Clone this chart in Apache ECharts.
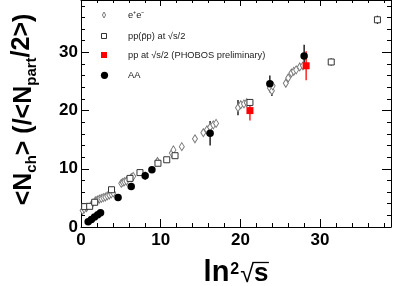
<!DOCTYPE html>
<html><head><meta charset="utf-8">
<script src="https://cdn.jsdelivr.net/npm/echarts@6/dist/echarts.min.js"></script>
<style>html,body{margin:0;padding:0;background:#fff}#c{width:399px;height:286px}</style>
</head><body><div id="c"></div>
<script>
// ---- data ----
const xTickLabels = [0, 10, 20, 30];
const yTickLabels = [0, 10, 20, 30];

const eeX   = [0.2,0.4,0.7,1.3,1.8,2.05,2.3,2.55,2.8,3.05,3.3,3.55,3.8,4.05,5.05,5.25,5.45,5.7,6.3,6.55,9.6,11.4,11.6,12.65,14.3,15.35,15.8,16.2,16.6,16.95,19.7,20.05,20.45,20.8,23.7,23.95,24.05,25.7,26.0,26.4,26.7,27.0,27.45,27.85];
const eeY   = [2.85,3.1,3.35,3.8,4.5,4.65,4.8,4.9,5.05,5.15,5.35,5.5,5.7,5.85,7.5,7.65,7.8,7.9,8.5,8.7,11.25,12.7,13.25,13.8,15.15,16.2,16.7,17.15,17.55,17.8,20.5,21.0,21.15,21.35,23.9,23.4,24.25,24.7,25.6,26.45,26.75,27.0,27.5,27.7];
const eeErr = [0,0,0,0,0,0,0,0,0,0,0,0,0,0,0,0,0,0,0.6,0,0.5,0,0.6,0,0,0,0,0,0,0,1.3,0,0,0,0,0.9,0,0.6,0.5,0,0,0,0,0];

const ppX   = [0.46,1.09,1.72,3.83,6.15,7.4,9.66,10.76,11.8,21.2,31.4,37.2];
const ppY   = [3.5,3.55,4.25,6.4,8.35,9.35,10.95,11.55,12.25,21.4,28.35,35.6];
const ppErr = [0,0,0,0,0,0,0,0,0,0,0.6,0.7];

const redX   = [21.2, 28.25];
const redY   = [20.0, 27.7];
const redErr = [1.7, 2.5];

const aaX   = [0.9,1.3,1.7,2.1,2.45,4.65,6.3,8.05,8.9,16.2,23.7,28.0];
const aaY   = [0.9,1.3,1.7,2.1,2.45,5.05,6.95,8.8,9.85,16.1,24.6,29.4];
const aaErr = [0,0,0,0,0,0,0.4,0.7,0.3,2.1,1.45,1.9];

// ---- build ----
const FONT = "'Liberation Sans', Arial, Helvetica, sans-serif";
const zip = (xs, ys) => xs.map((x, i) => [x, ys[i]]);
const errs = (xs, ys, es) => xs.map((x, i) => [x, ys[i] - es[i], ys[i] + es[i]]).filter((d, i) => es[i] > 0);
const errRender = color => (params, api) => {
  const a = api.coord([api.value(0), api.value(1)]);
  const b = api.coord([api.value(0), api.value(2)]);
  return { type: 'line', shape: { x1: a[0], y1: a[1], x2: b[0], y2: b[1] }, style: { stroke: color, lineWidth: 1.3 } };
};

const XMIN = 0, XMAX = 38.9, YMIN = 0, YMAX = 39;
const lineStyle = { color: '#000', width: 1 };
function xAx(pos, interval, len, labels, line) {
  return {
    type: 'value', position: pos, min: XMIN, max: XMAX, interval: interval,
    axisLine: { show: line, onZero: false, lineStyle },
    axisTick: { show: true, inside: true, length: len, lineStyle },
    splitLine: { show: false },
    axisLabel: labels ? {
      show: true, margin: 5, showMaxLabel: false,
      fontFamily: FONT, fontWeight: 'bold', fontSize: 17, color: '#000',
      formatter: v => xTickLabels.includes(v) ? String(v) : ''
    } : { show: false }
  };
}
function yAx(pos, interval, len, labels, line) {
  return {
    type: 'value', position: pos, min: YMIN, max: YMAX, interval: interval,
    axisLine: { show: line, onZero: false, lineStyle },
    axisTick: { show: true, inside: true, length: len, lineStyle },
    splitLine: { show: false },
    axisLabel: labels ? {
      show: true, margin: 3, showMaxLabel: false,
      fontFamily: FONT, fontWeight: 'bold', fontSize: 17, color: '#000',
      formatter: v => yTickLabels.includes(v) ? String(v) : ''
    } : { show: false }
  };
}

// text measuring helper for composite titles
const mctx = document.createElement('canvas').getContext('2d');
function tw(str, font) { mctx.font = font; return mctx.measureText(str).width; }
const MID = 0.3465; // baseline offset below 'middle' as fraction of font size

// y-axis title pieces (drawn in a rotated group)
const yPieces = [
  { t: '<N', s: 25, d: 0 },
  { t: 'ch', s: 15, d: 4 },
  { t: '> (/<N', s: 25, d: 0 },
  { t: 'part', s: 15, d: 4 },
  { t: '/2>', s: 25, d: -2 },
  { t: ')', s: 25, d: 0 }
];
let yW = 0;
yPieces.forEach(p => { p.font = 'bold ' + p.s + 'px ' + FONT; p.w = tw(p.t, p.font); yW += p.w; });
let cx = -yW / 2;
const yChildren = yPieces.map(p => {
  const el = { type: 'text', x: cx, y: p.d - MID * p.s, style: { text: p.t, font: p.font, fill: '#000', align: 'left', verticalAlign: 'middle' } };
  cx += p.w;
  return el;
});

// x-axis title pieces
const xPieces = [
  { t: 'ln', font: 'bold 29px ' + FONT, s: 29, base: 283 },
  { t: '2', font: 'bold 16px ' + FONT, s: 16, base: 275, gap: 1 },
  { t: '√', font: '25px ' + FONT, s: 25, base: 284, gap: 1 },
  { t: 's', font: 'bold 26px ' + FONT, s: 26, base: 283, gap: 0 }
];
let xW = 0;
xPieces.forEach(p => { p.w = tw(p.t, p.font); xW += p.w + (p.gap || 0); });
let xx = 236 - xW / 2;
const xChildren = [];
xPieces.forEach(p => {
  xx += (p.gap || 0);
  xChildren.push({ type: 'text', x: xx, y: p.base - MID * p.s, style: { text: p.t, font: p.font, fill: '#000', align: 'left', verticalAlign: 'middle' } });
  p.x0 = xx;
  xx += p.w;
});
const sP = xPieces[3], rP = xPieces[2];
xChildren.push({ type: 'line', shape: { x1: rP.x0 + rP.w - 1.5, y1: 262.5, x2: sP.x0 + sP.w + 0.5, y2: 262.5 }, style: { stroke: '#000', lineWidth: 1.3 } });

const chart = echarts.init(document.getElementById('c'), null, { renderer: 'canvas' });
chart.setOption({
  animation: false,
  backgroundColor: '#fff',
  grid: { left: 81, right: 8, top: 0, bottom: 59 },
  xAxis: [
    xAx('bottom', 10, 8, true, true),
    xAx('bottom', 2, 4, false, false),
    xAx('top', 10, 6, false, true),
    xAx('top', 2, 3, false, false)
  ],
  yAxis: [
    yAx('left', 10, 8, true, true),
    yAx('left', 2, 4, false, false),
    yAx('right', 10, 9, false, true),
    yAx('right', 2, 4, false, false)
  ],
  series: [
    { type: 'custom', renderItem: errRender('#000'), data: errs(eeX, eeY, eeErr).concat(errs(ppX, ppY, ppErr), errs(aaX, aaY, aaErr)), encode: { x: 0, y: [1, 2] }, z: 1 },
    { type: 'custom', renderItem: errRender('#ff0000'), data: errs(redX, redY, redErr), encode: { x: 0, y: [1, 2] }, z: 1 },
    { name: 'e+e-', type: 'scatter', data: zip(eeX, eeY), symbol: 'diamond', symbolSize: [5, 8],
      itemStyle: { color: '#fff', borderColor: '#7a7a7a', borderWidth: 1, opacity: 1 }, z: 2 },
    { name: 'pp', type: 'scatter', data: zip(ppX, ppY), symbol: 'rect', symbolSize: 6,
      itemStyle: { color: '#fff', borderColor: '#333', borderWidth: 1, opacity: 1 }, z: 3 },
    { name: 'PHOBOS', type: 'scatter', data: zip(redX, redY), symbol: 'rect', symbolSize: 7,
      itemStyle: { color: '#ff0000', opacity: 1 }, z: 4 },
    { name: 'AA', type: 'scatter', data: zip(aaX, aaY), symbol: 'circle', symbolSize: 7.5,
      itemStyle: { color: '#000', opacity: 1 }, z: 5 }
  ],
  graphic: [
    { type: 'polygon', shape: { points: [[104, 12], [105.6, 15], [104, 18], [102.4, 15]] }, style: { fill: '#fff', stroke: '#7a7a7a', lineWidth: 1 } },
    { type: 'rect', shape: { x: 101.5, y: 33.5, width: 5, height: 5 }, style: { fill: '#fff', stroke: '#333', lineWidth: 1 } },
    { type: 'rect', shape: { x: 101, y: 52, width: 6, height: 6 }, style: { fill: '#ff0000' } },
    { type: 'circle', shape: { cx: 104.5, cy: 75.3, r: 3.6 }, style: { fill: '#000' } },
    { type: 'text', x: 128, y: 15, style: { text: 'e⁺e⁻', font: '9.3px ' + FONT, fill: '#222', verticalAlign: 'middle' } },
    { type: 'text', x: 128, y: 36.5, style: { text: 'pp(p̄p) at √s/2', font: '9.3px ' + FONT, fill: '#222', verticalAlign: 'middle' } },
    { type: 'text', x: 128, y: 55.5, style: { text: 'pp at √s/2 (PHOBOS preliminary)', font: '9.3px ' + FONT, fill: '#222', verticalAlign: 'middle' } },
    { type: 'text', x: 128, y: 75, style: { text: 'AA', font: '9.3px ' + FONT, fill: '#222', verticalAlign: 'middle' } },
    { type: 'group', x: 0, y: 0, children: xChildren },
    { type: 'group', x: 33, y: 109.5, rotation: Math.PI / 2, children: yChildren }
  ]
});
</script></body></html>
